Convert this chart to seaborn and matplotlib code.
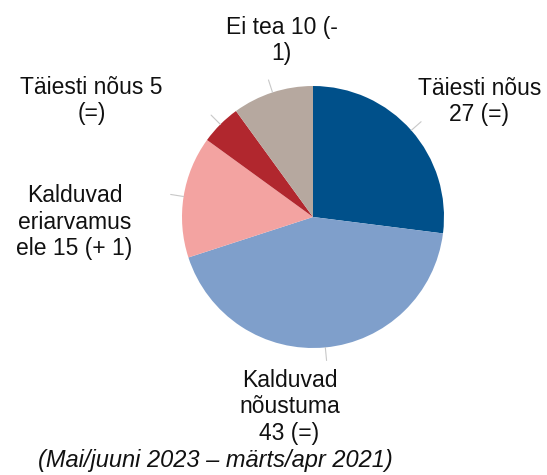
import numpy as np
import matplotlib
matplotlib.use("Agg")
import matplotlib.pyplot as plt
import seaborn as sns

# data, clockwise from 12 o'clock
labels = ["Täiesti nõus\n27 (=)", "Kalduvad\nnõustuma\n43 (=)",
          "Kalduvad\neriarvamus\nele 15 (+ 1)", "Täiesti nõus 5\n(=)",
          "Ei tea 10 (-\n1)"]
values = [27, 43, 15, 5, 10]
colors = ["#00508a", "#7f9fcb", "#f3a3a1", "#b1272e", "#b6a89f"]
label_pos = [(1.27, 0.88), (-0.18, -1.45), (-1.82, -0.04), (-1.69, 0.89), (-0.24, 1.35)]
caption = "(Mai/juuni 2023 – märts/apr 2021)"

sns.set_theme(style="white")
plt.rcParams["font.family"] = ["Liberation Sans", "DejaVu Sans"]

W, H = 547, 475
fig = plt.figure(figsize=(W / 100, H / 100), dpi=100)
cx, cy, r = 313, 217, 131
ax = fig.add_axes([(cx - r) / W, (H - cy - r) / H, 2 * r / W, 2 * r / H])

wedges, _ = ax.pie(values, colors=colors, startangle=90, counterclock=False,
                   radius=1, wedgeprops=dict(linewidth=0))
ax.set_xlim(-1, 1)
ax.set_ylim(-1, 1)
ax.set_aspect("equal")
ax.axis("off")

for w, lab, (tx, ty) in zip(wedges, labels, label_pos):
    mid = np.deg2rad((w.theta1 + w.theta2) / 2)
    ax.plot([1.0 * np.cos(mid), 1.1 * np.cos(mid)], [1.0 * np.sin(mid), 1.1 * np.sin(mid)],
            color="#c8c8c8", lw=0.8, clip_on=False)
    ax.text(tx, ty, lab, ha="center", va="center", fontsize=16.5,
            linespacing=1.18, color="#111111", clip_on=False)

fig.text(215 / W, 1 - 460 / H, caption, ha="center", va="center",
         fontsize=17, style="italic", color="#111111")

fig.savefig("out.png", dpi=100)
